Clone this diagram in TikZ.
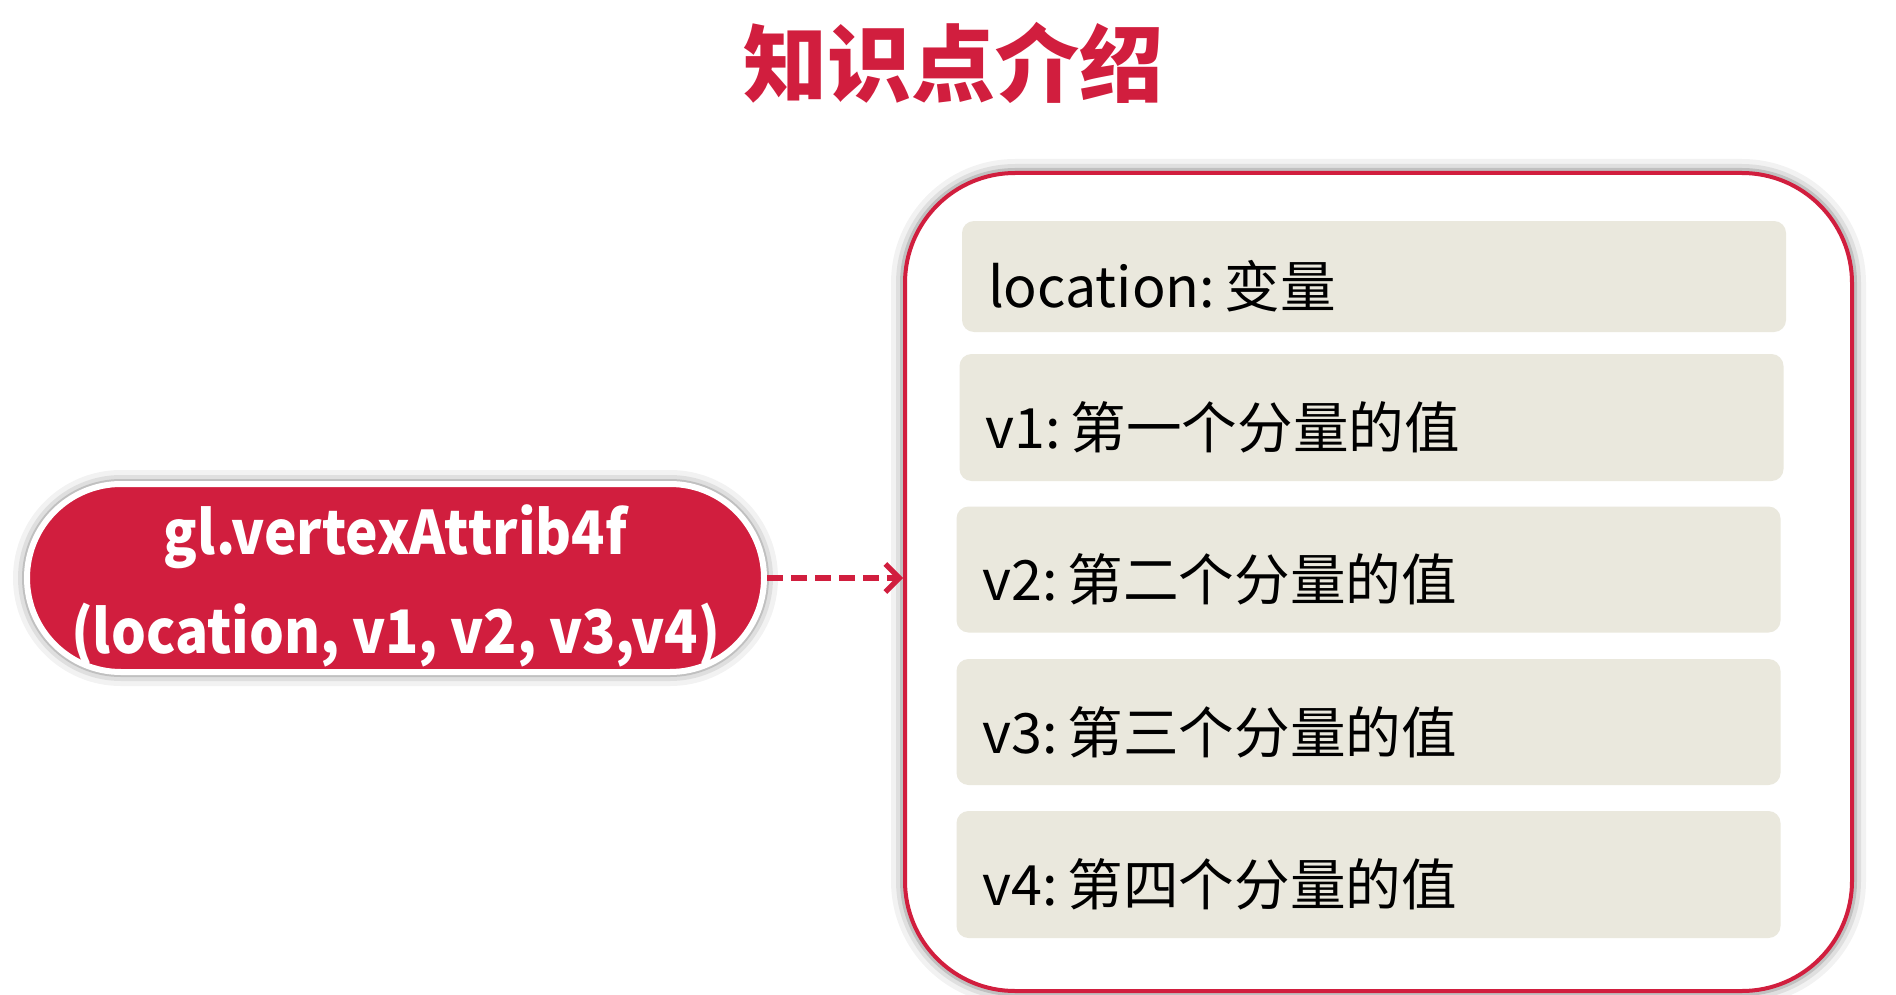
\documentclass[tikz,border=0pt]{standalone}
\usepackage{fontspec}
\setmainfont{Noto Sans CJK SC}
\newfontfamily\narrowfont[FakeStretch=0.915]{Noto Sans CJK SC}
\usetikzlibrary{arrows.meta}
\definecolor{accent}{RGB}{209,30,62}
\definecolor{panel}{RGB}{234,232,221}
\newcommand{\gap}{\hspace{0.18em}}
\begin{document}
\begin{tikzpicture}[x=0.5pt,y=-0.5pt,
  softshadow/.style={
    preaction={draw=black,opacity=0.05,line width=14pt},
    preaction={draw=black,opacity=0.08,line width=9pt},
    preaction={draw=black,opacity=0.14,line width=5pt}},
  pill/.style={fill=accent,draw=white,line width=3pt,rounded corners=47pt,
    minimum width=368.5pt,minimum height=94pt,inner sep=0pt,softshadow},
  pilltext/.style={align=center,inner sep=0pt,text=white,
    font=\narrowfont\bfseries\fontsize{30}{49.5}\selectfont},
  outerbox/.style={fill=white,draw=accent,line width=2pt,rounded corners=55pt,
    minimum width=473.5pt,minimum height=409pt,softshadow},
  row/.style={fill=panel,rounded corners=6pt,minimum width=412pt,
    text width=386pt,inner xsep=13pt,inner ysep=0pt,align=left,
    text height=31pt,text depth=0pt,
    font=\fontsize{27.8}{32}\selectfont},
  link/.style={draw=accent,line width=2.6pt,dash pattern=on 8pt off 4pt,
    -{Straight Barb[length=7pt,width=14pt]}}]
\useasboundingbox (0,0) rectangle (1896,995);

% heading
\node[text=accent,font=\bfseries\fontsize{42}{50}\selectfont] (title) at (953,63) {知识点介绍};

% function call
\node[pill] (func) at (395.5,578) {};
\node[pilltext] (functext) at (395.5,586) {gl.vertexAttrib4f\\(location, v1, v2, v3,v4)};

% parameter panel
\node[outerbox] (outer) at (1378.5,582) {};
\node[row,minimum height=55.5pt] (r1) at (1374,276.5) {location:\gap 变量};
\node[row,minimum height=63.5pt] (r2) at (1371.5,417.5) {v1:\gap 第一个分量的值};
\node[row,minimum height=63pt]   (r3) at (1368.5,569.5) {v2:\gap 第二个分量的值};
\node[row,minimum height=63pt]   (r4) at (1368.5,722) {v3:\gap 第三个分量的值};
\node[row,minimum height=63.5pt] (r5) at (1368.5,874.5) {v4:\gap 第四个分量的值};

% connector
\draw[link] (func.east) -- (func.east -| outer.west);
\end{tikzpicture}
\end{document}
